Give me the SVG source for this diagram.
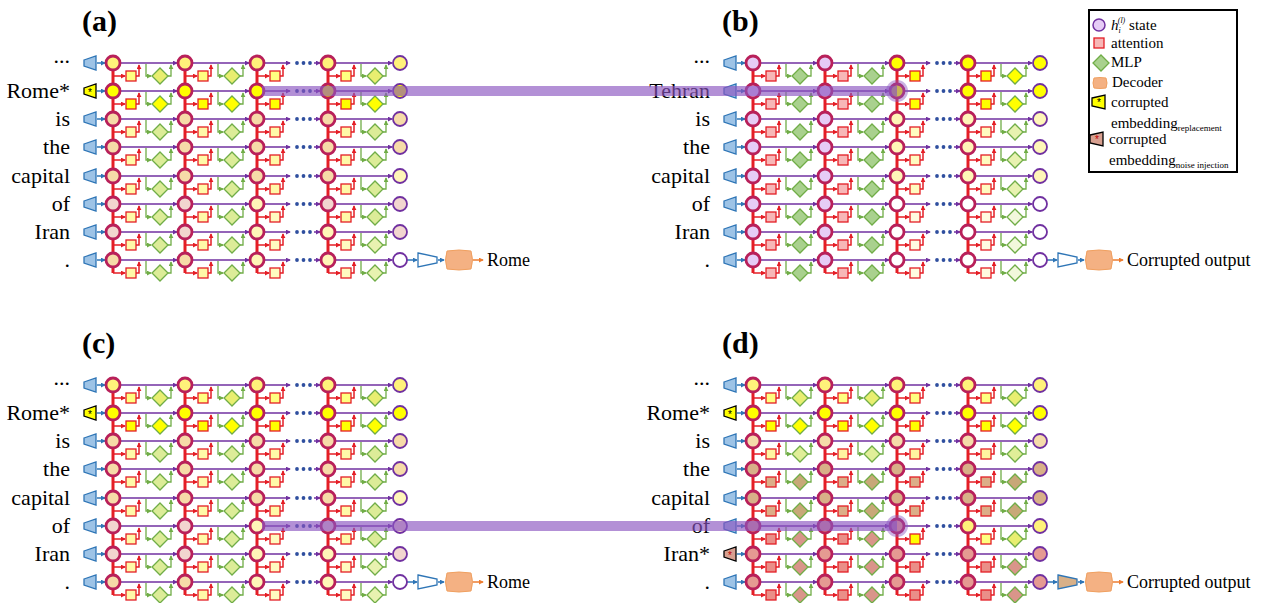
<svg xmlns="http://www.w3.org/2000/svg" xmlns:xlink="http://www.w3.org/1999/xlink" width="1261" height="603" viewBox="0 0 1261 603">
<style>
.cir{fill:var(--c);stroke:#b8205a;stroke-width:2.8}
.att{fill:var(--a);stroke:#e41e26;stroke-width:1.3}
.mlp{fill:var(--m);stroke:#70ad47;stroke-width:1.3}
.out{fill:var(--c);stroke:#7030a0;stroke-width:1.8}
.ya{--c:#fff27a;--a:#ffff80;--m:#e8ee70}
.yb{--c:#ffff00;--a:#ffff00;--m:#ffff00}
.ta{--c:#f6dba8;--a:#fff9a8;--m:#dcec98}
.pk{--c:#f2d6cf;--a:#fff9a8;--m:#dcec98}
.py{--c:#fff6b8;--a:#fffbc0;--m:#e8f2b0}
.wh{--c:#ffffff;--a:#fffbe0;--m:#f2f8dc}
.lv{--c:#e6ccf6;--a:#f7b7b7;--m:#a9d18e}
.bt{--c:#d8b088;--a:#dcae88;--m:#c8a878}
.rd{--c:#e59a92;--a:#ea8f88;--m:#d9958a}
.ry{--c:#e59a92;--a:#ffff00;--m:#d9958a}
.tl{--c:#f5dcaa;--a:#fff5a0;--m:#e0ee98}
.lb{font-family:"Liberation Serif",serif;font-size:22px;fill:#000;text-anchor:end}
.tt{font-family:"Liberation Serif",serif;font-size:30px;font-weight:bold;fill:#000}
.lg{font-family:"Liberation Serif",serif;font-size:15px;fill:#000}
.dt{font-family:"Liberation Serif",serif;font-size:18px;fill:#000}
.pl{stroke:#7030a0;stroke-width:1.5;fill:none;marker-end:url(#mp)}
.rl{stroke:#e41e26;stroke-width:1.5;fill:none;marker-end:url(#mr)}
.gl{stroke:#70ad47;stroke-width:1.3;fill:none;marker-end:url(#mg)}
.bl{stroke:#2e75b6;stroke-width:1.5;fill:none;marker-end:url(#mb)}
.ol{stroke:#ed7d31;stroke-width:1.5;fill:none;marker-end:url(#mo)}
.vr{stroke:#e41e26;stroke-width:3}
.enc{fill:#9dc3e6;stroke:#2e75b6;stroke-width:1.3}
.dec{fill:#f4b183;stroke:#f0a060;stroke-width:1}
.band{fill:#8a55c0;opacity:.65}
.halo{fill:#8a55c0;opacity:.45}
</style>
<defs>
<marker id="mp" viewBox="0 0 6 6" refX="5" refY="3" markerWidth="5" markerHeight="5" markerUnits="userSpaceOnUse" orient="auto"><path d="M0,0L6,3L0,6z" fill="#7030a0"/></marker>
<marker id="mr" viewBox="0 0 6 6" refX="5" refY="3" markerWidth="5" markerHeight="5" markerUnits="userSpaceOnUse" orient="auto"><path d="M0,0L6,3L0,6z" fill="#e41e26"/></marker>
<marker id="mg" viewBox="0 0 6 6" refX="5" refY="3" markerWidth="5" markerHeight="5" markerUnits="userSpaceOnUse" orient="auto"><path d="M0,0L6,3L0,6z" fill="#70ad47"/></marker>
<marker id="mb" viewBox="0 0 6 6" refX="5" refY="3" markerWidth="5" markerHeight="5" markerUnits="userSpaceOnUse" orient="auto"><path d="M0,0L6,3L0,6z" fill="#2e75b6"/></marker>
<marker id="mo" viewBox="0 0 6 6" refX="5" refY="3" markerWidth="5" markerHeight="5" markerUnits="userSpaceOnUse" orient="auto"><path d="M0,0L6,3L0,6z" fill="#ed7d31"/></marker>
<g id="cf"><circle r="7" class="cir"/><rect x="13" y="8" width="10" height="10" class="att"/><path d="M47,5L55,13L47,21L39,13Z" class="mlp"/></g>
<g id="ca"><circle r="7" class="cir"/><rect x="13" y="8" width="10" height="10" class="att"/></g>
<g id="co"><circle r="7" class="out"/></g>
<polygon id="enc" points="84,-3 96,-7 96,7 84,3" class="enc"/>
<g id="encY"><polygon points="84,-3 96,-7 96,7 84,3" fill="#ffff00" stroke="#000" stroke-width="1.3"/><text x="90" y="5" font-family="Liberation Sans,sans-serif" font-size="10" text-anchor="middle" fill="#000">*</text></g>
<g id="encR"><polygon points="84,-3 96,-7 96,7 84,3" fill="#d8a090" stroke="#000" stroke-width="1.3"/><text x="90" y="5" font-family="Liberation Sans,sans-serif" font-size="10" text-anchor="middle" fill="#c00000">*</text></g>
<g id="rowc">
<line x1="97" y1="0" x2="105" y2="0" class="bl"/>
<line x1="120" y1="0" x2="177" y2="0" class="pl"/>
<line x1="192" y1="0" x2="249" y2="0" class="pl"/>
<line x1="264" y1="0" x2="290" y2="0" class="pl"/>
<circle cx="297" cy="0" r="1.9" fill="#2f4f9f"/><circle cx="303.5" cy="0" r="1.9" fill="#2f4f9f"/><circle cx="310" cy="0" r="1.9" fill="#2f4f9f"/>
<line x1="314" y1="0" x2="320" y2="0" class="pl"/>
<line x1="335" y1="0" x2="392" y2="0" class="pl"/>
<line x1="113" y1="13" x2="125" y2="13" class="rl"/><polyline points="136,13 139,13 139,2" class="rl"/>
<line x1="185" y1="13" x2="197" y2="13" class="rl"/><polyline points="208,13 211,13 211,2" class="rl"/>
<line x1="257" y1="13" x2="269" y2="13" class="rl"/><polyline points="280,13 283,13 283,2" class="rl"/>
<line x1="328" y1="13" x2="340" y2="13" class="rl"/><polyline points="351,13 354,13 354,2" class="rl"/>
<polyline points="146,1 146,13 151,13" class="gl"/><polyline points="168,13 171,13 171,2" class="gl"/>
<polyline points="218,1 218,13 223,13" class="gl"/><polyline points="240,13 243,13 243,2" class="gl"/>
<polyline points="361,1 361,13 366,13" class="gl"/><polyline points="383,13 386,13 386,2" class="gl"/>
</g>
<g id="vert">
<line x1="113" y1="63" x2="113" y2="273" class="vr"/>
<line x1="185" y1="63" x2="185" y2="273" class="vr"/>
<line x1="257" y1="63" x2="257" y2="273" class="vr"/>
<line x1="328" y1="63" x2="328" y2="273" class="vr"/>
</g>
<g id="decc">
<line x1="407" y1="260" x2="417" y2="260" class="bl"/>
<line x1="438" y1="260" x2="444" y2="260" class="bl"/>
<line x1="473" y1="260" x2="483" y2="260" class="ol"/>
</g>
<path id="decs" d="M447,251Q459,249 471,251Q474,260 471,269Q459,271 447,269Q444,260 447,251Z" class="dec"/>
</defs>
<rect width="1261" height="603" fill="#fff"/>

<g id="connectors">
<g transform="translate(0,0)"><use href="#vert"/><use href="#decc"/>
<use href="#rowc" y="63"/><use href="#rowc" y="91"/><use href="#rowc" y="119"/><use href="#rowc" y="147"/><use href="#rowc" y="176"/><use href="#rowc" y="204"/><use href="#rowc" y="232"/><use href="#rowc" y="260"/></g>
<g transform="translate(640,0)"><use href="#vert"/><use href="#decc"/>
<use href="#rowc" y="63"/><use href="#rowc" y="91"/><use href="#rowc" y="119"/><use href="#rowc" y="147"/><use href="#rowc" y="176"/><use href="#rowc" y="204"/><use href="#rowc" y="232"/><use href="#rowc" y="260"/></g>
<g transform="translate(0,322)"><use href="#vert"/><use href="#decc"/>
<use href="#rowc" y="63"/><use href="#rowc" y="91"/><use href="#rowc" y="119"/><use href="#rowc" y="147"/><use href="#rowc" y="176"/><use href="#rowc" y="204"/><use href="#rowc" y="232"/><use href="#rowc" y="260"/></g>
<g transform="translate(640,322)"><use href="#vert"/><use href="#decc"/>
<use href="#rowc" y="63"/><use href="#rowc" y="91"/><use href="#rowc" y="119"/><use href="#rowc" y="147"/><use href="#rowc" y="176"/><use href="#rowc" y="204"/><use href="#rowc" y="232"/><use href="#rowc" y="260"/></g>
</g>

<g id="panel-a">
<text x="82" y="31" class="tt">(a)</text>
<text x="70" y="63" class="lb">...</text><text x="70" y="98" class="lb">Rome*</text><text x="70" y="126" class="lb">is</text><text x="70" y="154" class="lb">the</text><text x="70" y="183" class="lb">capital</text><text x="70" y="211" class="lb">of</text><text x="70" y="239" class="lb">Iran</text><text x="70" y="267" class="lb">.</text>
<g id="a-r0" transform="translate(0,63)"><use href="#enc"/><use href="#cf" x="113" class="ya"/><use href="#cf" x="185" class="ya"/><use href="#ca" x="257" class="ya"/><use href="#cf" x="328" class="ya"/><use href="#co" x="400" class="ya"/></g>
<g id="a-r1" transform="translate(0,91)"><use href="#encY"/><use href="#cf" x="113" class="yb"/><use href="#cf" x="185" class="yb"/><use href="#ca" x="257" class="yb"/><use href="#cf" x="328" class="yb"/><use href="#co" x="400" class="yb"/></g>
<g id="a-r2" transform="translate(0,119)"><use href="#enc"/><use href="#cf" x="113" class="ta"/><use href="#cf" x="185" class="ta"/><use href="#ca" x="257" class="ta"/><use href="#cf" x="328" class="ta"/><use href="#co" x="400" class="ta"/></g>
<g id="a-r3" transform="translate(0,147)"><use href="#enc"/><use href="#cf" x="113" class="ta"/><use href="#cf" x="185" class="ta"/><use href="#ca" x="257" class="ta"/><use href="#cf" x="328" class="ta"/><use href="#co" x="400" class="ta"/></g>
<g id="a-r4" transform="translate(0,176)"><use href="#enc"/><use href="#cf" x="113" class="ta"/><use href="#cf" x="185" class="ta"/><use href="#ca" x="257" class="ta"/><use href="#cf" x="328" class="ta"/><use href="#co" x="400" class="py"/></g>
<g id="a-r5" transform="translate(0,204)"><use href="#enc"/><use href="#cf" x="113" class="pk"/><use href="#cf" x="185" class="pk"/><use href="#ca" x="257" class="py"/><use href="#cf" x="328" class="pk"/><use href="#co" x="400" class="pk"/></g>
<g id="a-r6" transform="translate(0,232)"><use href="#enc"/><use href="#cf" x="113" class="pk"/><use href="#cf" x="185" class="pk"/><use href="#ca" x="257" class="py"/><use href="#cf" x="328" class="py"/><use href="#co" x="400" class="pk"/></g>
<g id="a-r7" transform="translate(0,260)"><use href="#enc"/><use href="#cf" x="113" class="ta"/><use href="#cf" x="185" class="ta"/><use href="#ca" x="257" class="py"/><use href="#cf" x="328" class="py"/><use href="#co" x="400" class="wh"/></g>
<g id="a-dec"><polygon points="418,253 437,257 437,263 418,267" fill="#fff" stroke="#2e75b6" stroke-width="1.3"/><use href="#decs"/><text x="487" y="266" class="dt">Rome</text></g>
</g>

<g id="panel-b" transform="translate(640,0)">
<text x="82" y="31" class="tt">(b)</text>
<text x="70" y="63" class="lb">...</text><text x="70" y="98" class="lb">Tehran</text><text x="70" y="126" class="lb">is</text><text x="70" y="154" class="lb">the</text><text x="70" y="183" class="lb">capital</text><text x="70" y="211" class="lb">of</text><text x="70" y="239" class="lb">Iran</text><text x="70" y="267" class="lb">.</text>
<g id="b-r0" transform="translate(0,63)"><use href="#enc"/><use href="#cf" x="113" class="lv"/><use href="#cf" x="185" class="lv"/><use href="#ca" x="257" class="yb"/><use href="#cf" x="328" class="yb"/><use href="#co" x="400" class="yb"/></g>
<g id="b-r1" transform="translate(0,91)"><use href="#enc"/><use href="#cf" x="113" class="lv"/><use href="#cf" x="185" class="lv"/><use href="#ca" x="257" class="yb"/><use href="#cf" x="328" class="yb"/><use href="#co" x="400" class="yb"/></g>
<g id="b-r2" transform="translate(0,119)"><use href="#enc"/><use href="#cf" x="113" class="lv"/><use href="#cf" x="185" class="lv"/><use href="#ca" x="257" class="py"/><use href="#cf" x="328" class="py"/><use href="#co" x="400" class="py"/></g>
<g id="b-r3" transform="translate(0,147)"><use href="#enc"/><use href="#cf" x="113" class="lv"/><use href="#cf" x="185" class="lv"/><use href="#ca" x="257" class="py"/><use href="#cf" x="328" class="py"/><use href="#co" x="400" class="py"/></g>
<g id="b-r4" transform="translate(0,176)"><use href="#enc"/><use href="#cf" x="113" class="lv"/><use href="#cf" x="185" class="lv"/><use href="#ca" x="257" class="py"/><use href="#cf" x="328" class="py"/><use href="#co" x="400" class="py"/></g>
<g id="b-r5" transform="translate(0,204)"><use href="#enc"/><use href="#cf" x="113" class="lv"/><use href="#cf" x="185" class="lv"/><use href="#ca" x="257" class="wh"/><use href="#cf" x="328" class="wh"/><use href="#co" x="400" class="wh"/></g>
<g id="b-r6" transform="translate(0,232)"><use href="#enc"/><use href="#cf" x="113" class="lv"/><use href="#cf" x="185" class="lv"/><use href="#ca" x="257" class="wh"/><use href="#cf" x="328" class="wh"/><use href="#co" x="400" class="wh"/></g>
<g id="b-r7" transform="translate(0,260)"><use href="#enc"/><use href="#cf" x="113" class="lv"/><use href="#cf" x="185" class="lv"/><use href="#ca" x="257" class="wh"/><use href="#cf" x="328" class="wh"/><use href="#co" x="400" class="wh"/></g>
<g id="b-dec"><polygon points="418,253 437,257 437,263 418,267" fill="#fff" stroke="#2e75b6" stroke-width="1.3"/><use href="#decs"/><text x="487" y="266" class="dt">Corrupted output</text></g>
</g>

<g id="panel-c" transform="translate(0,322)">
<text x="82" y="31" class="tt">(c)</text>
<text x="70" y="63" class="lb">...</text><text x="70" y="98" class="lb">Rome*</text><text x="70" y="126" class="lb">is</text><text x="70" y="154" class="lb">the</text><text x="70" y="183" class="lb">capital</text><text x="70" y="211" class="lb">of</text><text x="70" y="239" class="lb">Iran</text><text x="70" y="267" class="lb">.</text>
<g id="c-r0" transform="translate(0,63)"><use href="#enc"/><use href="#cf" x="113" class="ya"/><use href="#cf" x="185" class="ya"/><use href="#ca" x="257" class="ya"/><use href="#cf" x="328" class="ya"/><use href="#co" x="400" class="ya"/></g>
<g id="c-r1" transform="translate(0,91)"><use href="#encY"/><use href="#cf" x="113" class="yb"/><use href="#cf" x="185" class="yb"/><use href="#ca" x="257" class="yb"/><use href="#cf" x="328" class="yb"/><use href="#co" x="400" class="yb"/></g>
<g id="c-r2" transform="translate(0,119)"><use href="#enc"/><use href="#cf" x="113" class="ta"/><use href="#cf" x="185" class="ta"/><use href="#ca" x="257" class="ta"/><use href="#cf" x="328" class="ta"/><use href="#co" x="400" class="ta"/></g>
<g id="c-r3" transform="translate(0,147)"><use href="#enc"/><use href="#cf" x="113" class="ta"/><use href="#cf" x="185" class="ta"/><use href="#ca" x="257" class="ta"/><use href="#cf" x="328" class="ta"/><use href="#co" x="400" class="ta"/></g>
<g id="c-r4" transform="translate(0,176)"><use href="#enc"/><use href="#cf" x="113" class="ta"/><use href="#cf" x="185" class="ta"/><use href="#ca" x="257" class="ta"/><use href="#cf" x="328" class="ta"/><use href="#co" x="400" class="py"/></g>
<g id="c-r5" transform="translate(0,204)"><use href="#enc"/><use href="#cf" x="113" class="pk"/><use href="#cf" x="185" class="pk"/><use href="#ca" x="257" class="py"/><use href="#cf" x="328" class="pk"/><use href="#co" x="400" class="pk"/></g>
<g id="c-r6" transform="translate(0,232)"><use href="#enc"/><use href="#cf" x="113" class="pk"/><use href="#cf" x="185" class="pk"/><use href="#ca" x="257" class="py"/><use href="#cf" x="328" class="py"/><use href="#co" x="400" class="pk"/></g>
<g id="c-r7" transform="translate(0,260)"><use href="#enc"/><use href="#cf" x="113" class="ta"/><use href="#cf" x="185" class="ta"/><use href="#ca" x="257" class="py"/><use href="#cf" x="328" class="py"/><use href="#co" x="400" class="wh"/></g>
<g id="c-dec"><polygon points="418,253 437,257 437,263 418,267" fill="#fff" stroke="#2e75b6" stroke-width="1.3"/><use href="#decs"/><text x="487" y="266" class="dt">Rome</text></g>
</g>

<g id="panel-d" transform="translate(640,322)">
<text x="82" y="31" class="tt">(d)</text>
<text x="70" y="63" class="lb">...</text><text x="70" y="98" class="lb">Rome*</text><text x="70" y="126" class="lb">is</text><text x="70" y="154" class="lb">the</text><text x="70" y="183" class="lb">capital</text><text x="70" y="211" class="lb">of</text><text x="70" y="239" class="lb">Iran*</text><text x="70" y="267" class="lb">.</text>
<g id="d-r0" transform="translate(0,63)"><use href="#enc"/><use href="#cf" x="113" class="ya"/><use href="#cf" x="185" class="ya"/><use href="#ca" x="257" class="ya"/><use href="#cf" x="328" class="ya"/><use href="#co" x="400" class="ya"/></g>
<g id="d-r1" transform="translate(0,91)"><use href="#encY"/><use href="#cf" x="113" class="yb"/><use href="#cf" x="185" class="yb"/><use href="#ca" x="257" class="yb"/><use href="#cf" x="328" class="yb"/><use href="#co" x="400" class="yb"/></g>
<g id="d-r2" transform="translate(0,119)"><use href="#enc"/><use href="#cf" x="113" class="tl"/><use href="#cf" x="185" class="tl"/><use href="#ca" x="257" class="tl"/><use href="#cf" x="328" class="tl"/><use href="#co" x="400" class="tl"/></g>
<g id="d-r3" transform="translate(0,147)"><use href="#enc"/><use href="#cf" x="113" class="bt"/><use href="#cf" x="185" class="bt"/><use href="#ca" x="257" class="bt"/><use href="#cf" x="328" class="bt"/><use href="#co" x="400" class="bt"/></g>
<g id="d-r4" transform="translate(0,176)"><use href="#enc"/><use href="#cf" x="113" class="bt"/><use href="#cf" x="185" class="bt"/><use href="#ca" x="257" class="bt"/><use href="#cf" x="328" class="bt"/><use href="#co" x="400" class="bt"/></g>
<g id="d-r5" transform="translate(0,204)"><use href="#enc"/><use href="#cf" x="113" class="rd"/><use href="#cf" x="185" class="rd"/><use href="#ca" x="257" class="ry"/><use href="#cf" x="328" class="ya"/><use href="#co" x="400" class="ya"/></g>
<g id="d-r6" transform="translate(0,232)"><use href="#encR"/><use href="#cf" x="113" class="rd"/><use href="#cf" x="185" class="rd"/><use href="#ca" x="257" class="rd"/><use href="#cf" x="328" class="rd"/><use href="#co" x="400" class="rd"/></g>
<g id="d-r7" transform="translate(0,260)"><use href="#enc"/><use href="#cf" x="113" class="rd"/><use href="#cf" x="185" class="rd"/><use href="#ca" x="257" class="rd"/><use href="#cf" x="328" class="rd"/><use href="#co" x="400" class="rd"/></g>
<g id="d-dec"><polygon points="418,253 437,257 437,263 418,267" fill="#d8b088" stroke="#2e75b6" stroke-width="1.3"/><use href="#decs"/><text x="487" y="266" class="dt">Corrupted output</text></g>
</g>

<g id="patches">
<rect x="262" y="86" width="635" height="10" class="band"/><circle cx="897" cy="91" r="11" class="halo"/>
<rect x="262" y="521" width="635" height="10" class="band"/><circle cx="897" cy="526" r="11" class="halo"/>
</g>

<g id="legend">
<rect x="1089" y="10" width="148" height="162" fill="#fff" stroke="#000" stroke-width="2"/>
<circle cx="1099" cy="25" r="6" fill="#e6ccf6" stroke="#7030a0" stroke-width="1.5"/>
<text x="1111" y="30" class="lg"><tspan font-style="italic">h</tspan><tspan font-style="italic" font-size="8" dy="3">i</tspan><tspan font-style="italic" font-size="8" dx="-3" dy="-10">(l)</tspan><tspan dy="7"> state</tspan></text>
<rect x="1094" y="38" width="10" height="10" fill="#f7b7b7" stroke="#e41e26" stroke-width="1.3"/>
<text x="1111" y="48" class="lg">attention</text>
<path d="M1101,55L1109,63L1101,71L1093,63Z" fill="#a9d18e" stroke="#70ad47" stroke-width="1.3"/>
<text x="1111" y="67" class="lg">MLP</text>
<path d="M1094,78Q1100,77 1106,78Q1108,83 1106,88Q1100,89 1094,88Q1092,83 1094,78Z" fill="#f4b183" stroke="#f0a060"/>
<text x="1112" y="87" class="lg">Decoder</text>
<g transform="translate(1008,102)"><polygon points="84,-4 97,-7 97,7 84,4" fill="#ffff00" stroke="#000" stroke-width="1.3"/><text x="91" y="4" font-family="Liberation Sans,sans-serif" font-size="10" text-anchor="middle">*</text></g>
<text x="1111" y="107" class="lg">corrupted</text>
<text x="1111" y="128" class="lg">embedding<tspan font-size="9" dy="3">replacement</tspan></text>
<g transform="translate(1006,139)"><polygon points="84,-4 97,-7 97,7 84,4" fill="#d8a090" stroke="#000" stroke-width="1.3"/><text x="91" y="4" font-family="Liberation Sans,sans-serif" font-size="10" text-anchor="middle" fill="#c00000">*</text></g>
<text x="1109" y="144" class="lg">corrupted</text>
<text x="1109" y="165" class="lg">embedding<tspan font-size="9" dy="3">noise injection</tspan></text>
</g>
</svg>
